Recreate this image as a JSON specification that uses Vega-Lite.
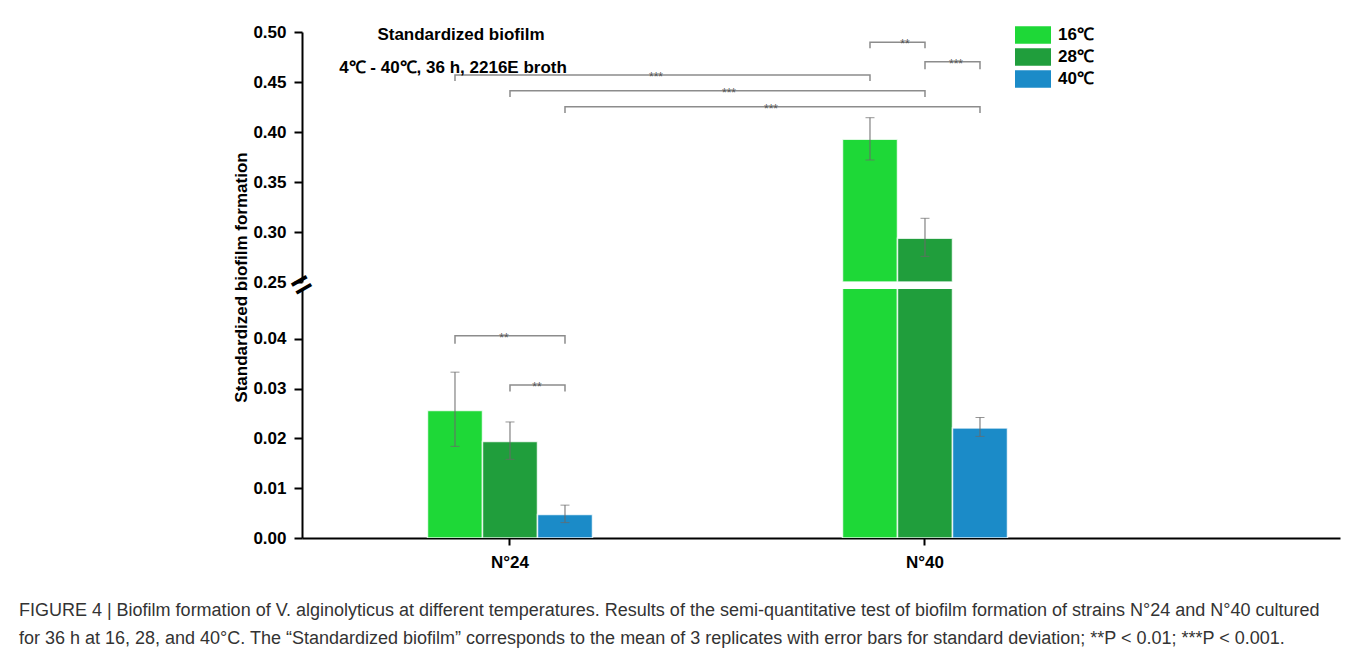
{
  "$schema": "https://vega.github.io/schema/vega-lite/v6.json",
  "padding": {"left": 18, "top": 23, "right": 5, "bottom": 5},
  "background": "white",
  "bounds": "flush",
  "spacing": 7,
  "config": {
    "font": "Liberation Sans",
    "view": {"stroke": null},
    "axis": {
      "labelFont": "Liberation Sans", "labelFontWeight": "bold", "labelFontSize": 17, "labelColor": "black",
      "titleFont": "Liberation Sans", "titleFontWeight": "bold", "titleFontSize": 17, "titleColor": "black",
      "domainColor": "black", "domainWidth": 2, "tickColor": "black", "tickWidth": 2, "grid": false
    }
  },
  "title": {
    "text": [
      "FIGURE 4 | Biofilm formation of V. alginolyticus at different temperatures. Results of the semi-quantitative test of biofilm formation of strains N°24 and N°40 cultured",
      "for 36 h at 16, 28, and 40°C. The “Standardized biofilm” corresponds to the mean of 3 replicates with error bars for standard deviation; **P < 0.01; ***P < 0.001."
    ],
    "orient": "bottom", "anchor": "start", "font": "Liberation Sans", "fontSize": 18, "fontWeight": "normal",
    "color": "#333333", "lineHeight": 28, "offset": 32, "dx": -214
  },
  "datasets": {
    "bars": [
      {"strain": "N°24", "temp": "16℃", "value": 0.0256, "lo": 0.0184, "hi": 0.0333},
      {"strain": "N°24", "temp": "28℃", "value": 0.0194, "lo": 0.0158, "hi": 0.0233},
      {"strain": "N°24", "temp": "40℃", "value": 0.0047, "lo": 0.0031, "hi": 0.0066},
      {"strain": "N°40", "temp": "16℃", "value": 0.3927, "lo": 0.3720, "hi": 0.4143},
      {"strain": "N°40", "temp": "28℃", "value": 0.2937, "lo": 0.2757, "hi": 0.3137},
      {"strain": "N°40", "temp": "40℃", "value": 0.0221, "lo": 0.0204, "hi": 0.0242}
    ],
    "brackets": [
      {"panel": "top", "id": 1, "s": 0, "strain": "N°40", "temp": "16℃", "y": 0.4837},
      {"panel": "top", "id": 1, "s": 1, "strain": "N°40", "temp": "16℃", "y": 0.4897},
      {"panel": "top", "id": 1, "s": 2, "strain": "N°40", "temp": "28℃", "y": 0.4897},
      {"panel": "top", "id": 1, "s": 3, "strain": "N°40", "temp": "28℃", "y": 0.4837},
      {"panel": "top", "id": 2, "s": 0, "strain": "N°40", "temp": "28℃", "y": 0.4627},
      {"panel": "top", "id": 2, "s": 1, "strain": "N°40", "temp": "28℃", "y": 0.4703},
      {"panel": "top", "id": 2, "s": 2, "strain": "N°40", "temp": "40℃", "y": 0.4703},
      {"panel": "top", "id": 2, "s": 3, "strain": "N°40", "temp": "40℃", "y": 0.4627},
      {"panel": "top", "id": 3, "s": 0, "strain": "N°24", "temp": "16℃", "y": 0.451},
      {"panel": "top", "id": 3, "s": 1, "strain": "N°24", "temp": "16℃", "y": 0.457},
      {"panel": "top", "id": 3, "s": 2, "strain": "N°40", "temp": "16℃", "y": 0.457},
      {"panel": "top", "id": 3, "s": 3, "strain": "N°40", "temp": "16℃", "y": 0.451},
      {"panel": "top", "id": 4, "s": 0, "strain": "N°24", "temp": "28℃", "y": 0.435},
      {"panel": "top", "id": 4, "s": 1, "strain": "N°24", "temp": "28℃", "y": 0.4413},
      {"panel": "top", "id": 4, "s": 2, "strain": "N°40", "temp": "28℃", "y": 0.4413},
      {"panel": "top", "id": 4, "s": 3, "strain": "N°40", "temp": "28℃", "y": 0.435},
      {"panel": "top", "id": 5, "s": 0, "strain": "N°24", "temp": "40℃", "y": 0.419},
      {"panel": "top", "id": 5, "s": 1, "strain": "N°24", "temp": "40℃", "y": 0.4253},
      {"panel": "top", "id": 5, "s": 2, "strain": "N°40", "temp": "40℃", "y": 0.4253},
      {"panel": "top", "id": 5, "s": 3, "strain": "N°40", "temp": "40℃", "y": 0.419},
      {"panel": "bottom", "id": 6, "s": 0, "strain": "N°24", "temp": "16℃", "y": 0.039},
      {"panel": "bottom", "id": 6, "s": 1, "strain": "N°24", "temp": "16℃", "y": 0.0406},
      {"panel": "bottom", "id": 6, "s": 2, "strain": "N°24", "temp": "40℃", "y": 0.0406},
      {"panel": "bottom", "id": 6, "s": 3, "strain": "N°24", "temp": "40℃", "y": 0.039},
      {"panel": "bottom", "id": 7, "s": 0, "strain": "N°24", "temp": "28℃", "y": 0.0294},
      {"panel": "bottom", "id": 7, "s": 1, "strain": "N°24", "temp": "28℃", "y": 0.0307},
      {"panel": "bottom", "id": 7, "s": 2, "strain": "N°24", "temp": "40℃", "y": 0.0307},
      {"panel": "bottom", "id": 7, "s": 3, "strain": "N°24", "temp": "40℃", "y": 0.0294}
    ]
  },
  "resolve": {"legend": {"color": "independent"}},
  "vconcat": [
    {
      "width": 1038,
      "height": 250,
      "layer": [
        {
          "data": {"name": "bars"},
          "transform": [{"filter": "datum.value >= 0.25"}],
          "mark": {"type": "bar", "clip": true, "stroke": "white", "strokeWidth": 1.5, "strokeOpacity": 0.8},
          "encoding": {
            "x": {"field": "strain", "type": "nominal", "scale": {"domain": ["N°24", "N°40"], "paddingInner": 0.6024, "paddingOuter": 0.5518, "align": 0.274}, "axis": null},
            "xOffset": {"field": "temp", "type": "nominal", "scale": {"domain": ["16℃", "28℃", "40℃"], "paddingInner": 0, "paddingOuter": 0}},
            "y": {"field": "value", "type": "quantitative", "scale": {"domain": [0.25, 0.5], "zero": false, "nice": false},
              "axis": {"title": null, "values": [0.25, 0.275, 0.3, 0.325, 0.35, 0.375, 0.4, 0.425, 0.45, 0.475, 0.5],
                "labelExpr": "round(datum.value*1000) % 50 == 0 ? format(datum.value, '.2f') : ''",
                "tickSize": {"condition": {"test": "round(datum.value*1000) % 50 == 0", "value": 8}, "value": 5},
                "labelPadding": 8}},
            "y2": {"datum": 0.25},
            "color": {"field": "temp", "type": "nominal",
              "scale": {"domain": ["16℃", "28℃", "40℃"], "range": ["#1ed837", "#209e3c", "#1b8bc8"]},
              "legend": {"orient": "none", "legendX": 722, "legendY": -6, "title": null,
                "symbolType": "M-2,-0.96L2,-0.96L2,0.96L-2,0.96Z", "symbolSize": 324, "symbolStrokeWidth": 0,
                "symbolOpacity": 1, "rowPadding": 4, "labelOffset": 16,
                "labelFont": "Liberation Sans", "labelFontWeight": "bold", "labelFontSize": 17, "labelColor": "black"}}
          }
        },
        {
          "data": {"name": "bars"},
          "transform": [{"filter": "datum.lo >= 0.25"}],
          "mark": {"type": "rule", "color": "#6a6a6a", "strokeWidth": 1},
          "encoding": {
            "x": {"field": "strain", "type": "nominal"},
            "xOffset": {"field": "temp", "type": "nominal"},
            "y": {"field": "lo", "type": "quantitative"},
            "y2": {"field": "hi"}
          }
        },
        {
          "data": {"name": "bars"},
          "transform": [{"filter": "datum.lo >= 0.25"}],
          "mark": {"type": "tick", "orient": "horizontal", "size": 9, "thickness": 1, "color": "#6a6a6a"},
          "encoding": {
            "x": {"field": "strain", "type": "nominal"},
            "xOffset": {"field": "temp", "type": "nominal"},
            "y": {"field": "lo", "type": "quantitative"}
          }
        },
        {
          "data": {"name": "bars"},
          "transform": [{"filter": "datum.lo >= 0.25"}],
          "mark": {"type": "tick", "orient": "horizontal", "size": 9, "thickness": 1, "color": "#6a6a6a"},
          "encoding": {
            "x": {"field": "strain", "type": "nominal"},
            "xOffset": {"field": "temp", "type": "nominal"},
            "y": {"field": "hi", "type": "quantitative"}
          }
        },
        {
          "data": {"name": "brackets"},
          "transform": [{"filter": "datum.panel == 'top'"}],
          "mark": {"type": "line", "color": "#8c8c8c", "strokeWidth": 1.5},
          "encoding": {
            "x": {"field": "strain", "type": "nominal"},
            "xOffset": {"field": "temp", "type": "nominal"},
            "y": {"field": "y", "type": "quantitative"},
            "detail": {"field": "id", "type": "nominal"},
            "order": {"field": "s", "type": "quantitative"}
          }
        },
        {
          "data": {"values": [{"label": "**", "strain": "N°40", "temp": "16℃", "y": 0.4897}]},
          "mark": {"type": "text", "dx": 35, "dy": 6, "fontSize": 12, "color": "#555555", "baseline": "alphabetic"},
          "encoding": {"x": {"field": "strain", "type": "nominal"}, "xOffset": {"field": "temp", "type": "nominal"}, "y": {"field": "y", "type": "quantitative"}, "text": {"field": "label"}}
        },
        {
          "data": {"values": [{"label": "***", "strain": "N°40", "temp": "28℃", "y": 0.4703}]},
          "mark": {"type": "text", "dx": 31, "dy": 6, "fontSize": 12, "color": "#555555", "baseline": "alphabetic"},
          "encoding": {"x": {"field": "strain", "type": "nominal"}, "xOffset": {"field": "temp", "type": "nominal"}, "y": {"field": "y", "type": "quantitative"}, "text": {"field": "label"}}
        },
        {
          "data": {"values": [{"label": "***", "strain": "N°24", "temp": "16℃", "y": 0.457}]},
          "mark": {"type": "text", "dx": 201, "dy": 6, "fontSize": 12, "color": "#555555", "baseline": "alphabetic"},
          "encoding": {"x": {"field": "strain", "type": "nominal"}, "xOffset": {"field": "temp", "type": "nominal"}, "y": {"field": "y", "type": "quantitative"}, "text": {"field": "label"}}
        },
        {
          "data": {"values": [{"label": "***", "strain": "N°24", "temp": "28℃", "y": 0.4413}]},
          "mark": {"type": "text", "dx": 219, "dy": 6, "fontSize": 12, "color": "#555555", "baseline": "alphabetic"},
          "encoding": {"x": {"field": "strain", "type": "nominal"}, "xOffset": {"field": "temp", "type": "nominal"}, "y": {"field": "y", "type": "quantitative"}, "text": {"field": "label"}}
        },
        {
          "data": {"values": [{"label": "***", "strain": "N°24", "temp": "40℃", "y": 0.4253}]},
          "mark": {"type": "text", "dx": 206, "dy": 6, "fontSize": 12, "color": "#555555", "baseline": "alphabetic"},
          "encoding": {"x": {"field": "strain", "type": "nominal"}, "xOffset": {"field": "temp", "type": "nominal"}, "y": {"field": "y", "type": "quantitative"}, "text": {"field": "label"}}
        },
        {
          "data": {"values": [{"label": "Standardized biofilm"}]},
          "mark": {"type": "text", "dx": -49, "fontSize": 17, "fontWeight": "bold", "color": "black", "baseline": "middle", "align": "center"},
          "encoding": {"x": {"datum": "N°24"}, "y": {"datum": 0.497}, "text": {"field": "label"}}
        },
        {
          "data": {"values": [{"label": "4℃ - 40℃, 36 h, 2216E broth"}]},
          "mark": {"type": "text", "dx": -57, "fontSize": 17, "fontWeight": "bold", "color": "black", "baseline": "middle", "align": "center"},
          "encoding": {"x": {"datum": "N°24"}, "y": {"datum": 0.464}, "text": {"field": "label"}}
        },
        {
          "data": {"values": [{"label": "="}]},
          "mark": {"type": "text", "dx": -182, "dy": -100.5, "fontSize": 34, "fontWeight": "bold", "color": "black", "baseline": "middle", "align": "center", "angle": 330},
          "encoding": {"x": {"datum": "N°24"}, "y": {"datum": 0.25}, "text": {"field": "label"}}
        }
      ]
    },
    {
      "width": 1038,
      "height": 249,
      "layer": [
        {
          "data": {"name": "bars"},
          "mark": {"type": "bar", "clip": true, "stroke": "white", "strokeWidth": 1.5, "strokeOpacity": 0.8},
          "encoding": {
            "x": {"field": "strain", "type": "nominal", "scale": {"domain": ["N°24", "N°40"], "paddingInner": 0.6024, "paddingOuter": 0.5518, "align": 0.274},
              "axis": {"title": null, "labelAngle": 0, "tickSize": 7, "labelPadding": 9}},
            "xOffset": {"field": "temp", "type": "nominal", "scale": {"domain": ["16℃", "28℃", "40℃"], "paddingInner": 0, "paddingOuter": 0}},
            "y": {"field": "value", "type": "quantitative", "scale": {"domain": [0, 0.05], "nice": false},
              "axis": {"title": "Standardized biofilm formation", "titleY": -12, "titlePadding": 2,
                "values": [0, 0.005, 0.01, 0.015, 0.02, 0.025, 0.03, 0.035, 0.04, 0.045],
                "labelExpr": "round(datum.value*1000) % 10 == 0 ? format(datum.value, '.2f') : ''",
                "tickSize": {"condition": {"test": "round(datum.value*1000) % 10 == 0", "value": 8}, "value": 5},
                "labelPadding": 8}},
            "color": {"field": "temp", "type": "nominal",
              "scale": {"domain": ["16℃", "28℃", "40℃"], "range": ["#1ed837", "#209e3c", "#1b8bc8"]}, "legend": null}
          }
        },
        {
          "data": {"name": "bars"},
          "transform": [{"filter": "datum.hi < 0.05"}],
          "mark": {"type": "rule", "color": "#6a6a6a", "strokeWidth": 1},
          "encoding": {
            "x": {"field": "strain", "type": "nominal"},
            "xOffset": {"field": "temp", "type": "nominal"},
            "y": {"field": "lo", "type": "quantitative"},
            "y2": {"field": "hi"}
          }
        },
        {
          "data": {"name": "bars"},
          "transform": [{"filter": "datum.hi < 0.05"}],
          "mark": {"type": "tick", "orient": "horizontal", "size": 9, "thickness": 1, "color": "#6a6a6a"},
          "encoding": {
            "x": {"field": "strain", "type": "nominal"},
            "xOffset": {"field": "temp", "type": "nominal"},
            "y": {"field": "lo", "type": "quantitative"}
          }
        },
        {
          "data": {"name": "bars"},
          "transform": [{"filter": "datum.hi < 0.05"}],
          "mark": {"type": "tick", "orient": "horizontal", "size": 9, "thickness": 1, "color": "#6a6a6a"},
          "encoding": {
            "x": {"field": "strain", "type": "nominal"},
            "xOffset": {"field": "temp", "type": "nominal"},
            "y": {"field": "hi", "type": "quantitative"}
          }
        },
        {
          "data": {"name": "brackets"},
          "transform": [{"filter": "datum.panel == 'bottom'"}],
          "mark": {"type": "line", "color": "#8c8c8c", "strokeWidth": 1.5},
          "encoding": {
            "x": {"field": "strain", "type": "nominal"},
            "xOffset": {"field": "temp", "type": "nominal"},
            "y": {"field": "y", "type": "quantitative"},
            "detail": {"field": "id", "type": "nominal"},
            "order": {"field": "s", "type": "quantitative"}
          }
        },
        {
          "data": {"values": [{"label": "**", "strain": "N°24", "temp": "16℃", "y": 0.0406}]},
          "mark": {"type": "text", "dx": 49, "dy": 6, "fontSize": 12, "color": "#555555", "baseline": "alphabetic"},
          "encoding": {"x": {"field": "strain", "type": "nominal"}, "xOffset": {"field": "temp", "type": "nominal"}, "y": {"field": "y", "type": "quantitative"}, "text": {"field": "label"}}
        },
        {
          "data": {"values": [{"label": "**", "strain": "N°24", "temp": "28℃", "y": 0.0307}]},
          "mark": {"type": "text", "dx": 27, "dy": 6, "fontSize": 12, "color": "#555555", "baseline": "alphabetic"},
          "encoding": {"x": {"field": "strain", "type": "nominal"}, "xOffset": {"field": "temp", "type": "nominal"}, "y": {"field": "y", "type": "quantitative"}, "text": {"field": "label"}}
        }
      ]
    }
  ]
}
